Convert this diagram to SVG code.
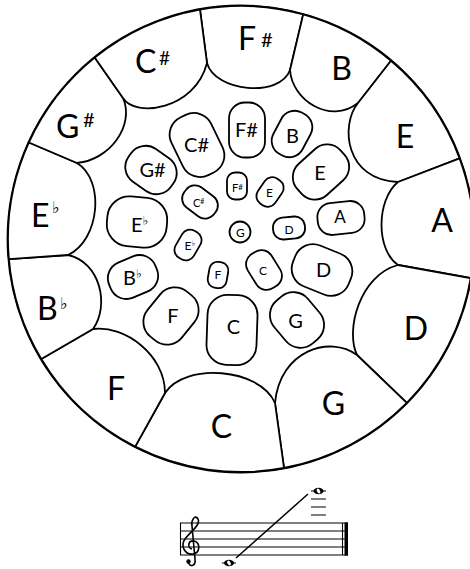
<svg xmlns="http://www.w3.org/2000/svg" width="470" height="569" viewBox="0 0 470 569">
<style>
.reg{fill:#fff;stroke:#000;stroke-width:1.8;stroke-linejoin:round}
.blob{fill:#fff;stroke:#000;stroke-width:1.8}
.t{font-family:Lato,"DejaVu Sans",sans-serif;fill:#000}
.o{font-size:32px}
.m{font-size:20px;text-anchor:middle}
.s{font-size:12px;text-anchor:middle}
.fl{font-family:"DejaVu Sans",sans-serif}
.ln{stroke:#000;fill:none}
</style>
<rect width="470" height="569" fill="#fff"/>
<circle cx="241" cy="239" r="233" fill="#fff" stroke="#000" stroke-width="2.8"/>
<g id="outer-Fs"><path class="reg" d="M200,9.6 L207,63 C215,92 280,98 290,70 L303.2,14.4 A233,233 0 0 0 200,9.6 Z"/><text class="t o" x="238" y="50">F</text><text class="t" x="261" y="47" font-size="20">#</text></g>
<g id="outer-B"><path class="reg" d="M303.2,14.4 L290,70 C292,100 330,125 358,103 L391,60.8 A233,233 0 0 0 303.2,14.4 Z"/><text class="t o" x="341.5" y="80" text-anchor="middle">B</text></g>
<g id="outer-E"><path class="reg" d="M391,60.8 L358,103 C340,125 345,180 398,182 L459.6,158.4 A233,233 0 0 0 391,60.8 Z"/><text class="t o" x="405" y="148" text-anchor="middle">E</text></g>
<g id="outer-A"><path class="reg" d="M459.6,158.4 L398,182 C376,200 376,250 398,265 L470.7,278.1 A233,233 0 0 0 459.6,158.4 Z"/><text class="t o" x="442" y="232" text-anchor="middle">A</text></g>
<g id="outer-D"><path class="reg" d="M470.7,278.1 L398,265 C360,275 345,330 357,355 L406.8,402.8 A233,233 0 0 0 470.7,278.1 Z"/><text class="t o" x="416" y="340" text-anchor="middle">D</text></g>
<g id="outer-G"><path class="reg" d="M406.8,402.8 L357,355 C330,335 280,350 275,403 L284,468 A233,233 0 0 0 406.8,402.8 Z"/><text class="t o" x="333.5" y="415" text-anchor="middle">G</text></g>
<g id="outer-C"><path class="reg" d="M284,468 L275,403 C260,368 185,362 165,393 L135.2,446.6 A233,233 0 0 0 284,468 Z"/><text class="t o" x="221.5" y="438" text-anchor="middle">C</text></g>
<g id="outer-F"><path class="reg" d="M135.2,446.6 L165,393 C165,355 125,325 93,329 L41.3,359 A233,233 0 0 0 135.2,446.6 Z"/><text class="t o" x="116" y="400" text-anchor="middle">F</text></g>
<g id="outer-Bb"><path class="reg" d="M41.3,359 L93,329 C110,305 100,262 68,255 L8.9,259.1 A233,233 0 0 0 41.3,359 Z"/><text class="t o" x="37" y="320">B</text><text class="t fl" x="60" y="309" font-size="16">♭</text></g>
<g id="outer-Eb"><path class="reg" d="M8.9,259.1 L68,255 C100,240 105,180 77,163 L28.9,142.5 A233,233 0 0 0 8.9,259.1 Z"/><text class="t o" x="31" y="227">E</text><text class="t fl" x="52" y="213" font-size="16">♭</text></g>
<g id="outer-Gs"><path class="reg" d="M28.9,142.5 L77,163 C110,160 135,125 123,98 L94.7,57.6 A233,233 0 0 0 28.9,142.5 Z"/><text class="t o" x="56" y="138">G</text><text class="t" x="83" y="127" font-size="20">#</text></g>
<g id="outer-Cs"><path class="reg" d="M94.7,57.6 L123,98 C135,118 195,110 207,63 L200,9.6 A233,233 0 0 0 94.7,57.6 Z"/><text class="t o" x="135" y="73">C</text><text class="t" x="159" y="65" font-size="19">#</text></g>

<g id="mid-Cs"><rect class="blob" transform="translate(197,145) rotate(64)" x="-32" y="-22" width="64" height="44" rx="19"/><text class="t m" x="196.5" y="152">C#</text></g>
<g id="mid-Gs"><rect class="blob" transform="translate(151,170) rotate(35)" x="-26" y="-20" width="52" height="40" rx="18"/><text class="t m" x="152.5" y="177">G#</text></g>
<g id="mid-Eb"><rect class="blob" transform="translate(137,222) rotate(5)" x="-30" y="-25" width="60" height="50" rx="22"/><text class="t" x="131" y="232" font-size="20">E<tspan class="fl" font-size="12" dy="-7">♭</tspan></text></g>
<g id="mid-Bb"><rect class="blob" transform="translate(133,277) rotate(-23)" x="-25" y="-19" width="50" height="38" rx="17"/><text class="t" x="123" y="285" font-size="20">B<tspan class="fl" font-size="12" dy="-7">♭</tspan></text></g>
<g id="mid-F"><rect class="blob" transform="translate(171,316) rotate(-51)" x="-29" y="-22" width="58" height="44" rx="19"/><text class="t m" x="173" y="323">F</text></g>
<g id="mid-C"><rect class="blob" transform="translate(232,330) rotate(92)" x="-35" y="-25" width="70" height="50" rx="20"/><text class="t m" x="233.5" y="334">C</text></g>
<g id="mid-G"><rect class="blob" transform="translate(297,320) rotate(50)" x="-28" y="-22" width="56" height="44" rx="19"/><text class="t m" x="295.5" y="328">G</text></g>
<g id="mid-D"><rect class="blob" transform="translate(322,270) rotate(22)" x="-30" y="-22" width="60" height="44" rx="19"/><text class="t m" x="323.5" y="277">D</text></g>
<g id="mid-A"><rect class="blob" transform="translate(341,218) rotate(-6)" x="-23.5" y="-16" width="47" height="32" rx="14"/><text class="t" x="340" y="223" font-size="17" text-anchor="middle">A</text></g>
<g id="mid-E"><rect class="blob" transform="translate(321,172) rotate(-42)" x="-29" y="-21" width="58" height="42" rx="18"/><text class="t m" x="320" y="180">E</text></g>
<g id="mid-B"><rect class="blob" transform="translate(292,134) rotate(-62)" x="-23.5" y="-16.5" width="47" height="33" rx="15"/><text class="t m" x="292.5" y="143">B</text></g>
<g id="mid-Fs"><rect class="blob" transform="translate(247,130) rotate(90)" x="-27.5" y="-18" width="55" height="36" rx="16"/><text class="t m" x="246.5" y="137">F#</text></g>

<g id="in-Fs"><rect class="blob" transform="translate(237,186) rotate(90)" x="-13.5" y="-10" width="27" height="20" rx="8"/><text class="t" x="232" y="192" font-size="11">F<tspan font-size="8" dy="-2">#</tspan></text></g>
<g id="in-E"><rect class="blob" transform="translate(270,192) rotate(-55)" x="-15" y="-10.5" width="30" height="21" rx="9"/><text class="t s" x="269.5" y="197" font-size="11">E</text></g>
<g id="in-D"><rect class="blob" transform="translate(289,228) rotate(-5)" x="-16" y="-11" width="32" height="22" rx="10"/><text class="t s" x="289" y="234" font-size="13">D</text></g>
<g id="in-G"><circle class="blob" cx="240" cy="232" r="10.5"/><text class="t s" x="240.5" y="237" font-size="13">G</text></g>
<g id="in-C"><rect class="blob" transform="translate(264,270) rotate(58)" x="-20" y="-14" width="40" height="28" rx="12"/><text class="t s" x="263" y="275" font-size="13">C</text></g>
<g id="in-F"><rect class="blob" transform="translate(218,275) rotate(100)" x="-13" y="-9.5" width="26" height="19" rx="8"/><text class="t s" x="218" y="279" font-size="10">F</text></g>
<g id="in-Eb"><rect class="blob" transform="translate(188,245) rotate(-60)" x="-15.5" y="-10.5" width="31" height="21" rx="9"/><text class="t" x="184.5" y="250" font-size="12">E<tspan class="fl" font-size="8" dy="-4">♭</tspan></text></g>
<g id="in-Cs"><rect class="blob" transform="translate(200,202) rotate(37)" x="-18.5" y="-12.5" width="37" height="25" rx="11"/><text class="t" x="193" y="207" font-size="11">C<tspan font-size="7" dy="-3">#</tspan></text></g>

<g id="staff">
<g class="ln" stroke-width="1.1">
<path d="M180,523H348M180,531H348M180,539H348M180,547H348M180,555H348"/>
<path d="M180.5,523V555M342.5,523V555"/>
<path d="M222,563H236M311,491H326M311,499H326M311,507H326M311,515H326"/>
</g>
<rect x="344.5" y="522.5" width="3.5" height="33" fill="#000"/>
<path class="ln" stroke-width="1.5" d="M236,558L308,494"/>
<g id="clef"><path class="ln" stroke-width="1.6" d="M188,562 C190,568 196,566 195,559 L192,526 C191,520 195,514 198,519 C201,525 190,532 185,539 C180,546 185,555 193,554 C200,553 201,543 194,541 C188,540 187,548 192,549"/><circle cx="188.5" cy="561.5" r="2.2" fill="#000"/></g>
<g id="note-low"><ellipse cx="229" cy="563" rx="5" ry="3.3" fill="#000"/><ellipse cx="229" cy="563" rx="1.6" ry="2.6" transform="rotate(-30 229 563)" fill="#fff"/></g>
<g id="note-high"><ellipse cx="318.5" cy="491" rx="5" ry="3.3" fill="#000"/><ellipse cx="318.5" cy="491" rx="1.6" ry="2.6" transform="rotate(-30 318.5 491)" fill="#fff"/></g>
</g>
</svg>
